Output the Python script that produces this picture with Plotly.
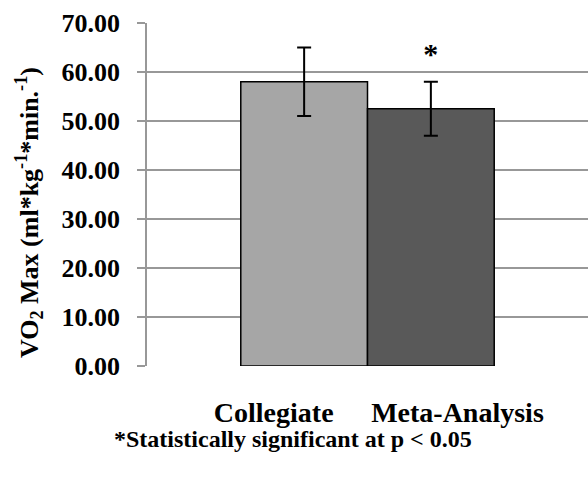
import plotly.graph_objects as go

categories = ["Collegiate", "Meta-Analysis"]
means = [58.0, 52.5]
errors = [7.0, 5.5]
colors = ["#a6a6a6", "#595959"]
label_pos = [-0.24, 1.21]
sig_marker = "*"
sig_y = 63.1
y_ticks = [0, 10, 20, 30, 40, 50, 60, 70]
y_ticktext = [f"{v:.2f}" for v in y_ticks]
y_title = "VO<sub>2</sub> Max (ml*kg<sup>-1</sup>*min.<sup>-1</sup>)"
footnote = "*Statistically significant at p < 0.05"

FONT = "Liberation Serif"

fig = go.Figure()
fig.add_trace(go.Bar(
    x=[0, 1], y=means, width=1,
    marker=dict(color=colors, line=dict(color="black", width=1.5)),
    error_y=dict(type="data", array=errors, color="black", thickness=2, width=7),
    showlegend=False,
))
fig.add_trace(go.Scatter(
    x=[1], y=[sig_y], mode="text", text=[sig_marker],
    textfont=dict(family=FONT, size=30, color="black", weight="bold"), showlegend=False,
))

fig.update_layout(
    width=588, height=479,
    margin=dict(l=147, r=0, t=23, b=113),
    plot_bgcolor="white", paper_bgcolor="white",
    font=dict(family=FONT, color="black"),
    xaxis=dict(
        range=[-1.24, 2.24], tickvals=label_pos, ticktext=categories,
        showgrid=False, zeroline=False, showline=False, ticks="",
        tickfont=dict(family=FONT, size=28, color="black", weight="bold"),
        ticklabelstandoff=27, automargin=False,
    ),
    yaxis=dict(
        range=[0, 70], tickvals=y_ticks, ticktext=y_ticktext,
        showgrid=True, gridcolor="#989898", gridwidth=1.5,
        zeroline=False, showline=True, linecolor="#989898", linewidth=1.5,
        ticks="outside", ticklen=8, tickcolor="#989898", tickwidth=1.5,
        tickfont=dict(family=FONT, size=26, color="black", weight="bold"),
        ticklabelstandoff=12, automargin=False,
    ),
    annotations=[
        dict(text=y_title, xref="paper", yref="paper", x=(29 - 147) / 441,
             y=(366 - 213) / 343, textangle=-90, xanchor="center", yanchor="middle",
             showarrow=False, font=dict(family=FONT, size=26, color="black", weight="bold")),
        dict(text=footnote, xref="paper", yref="paper", x=(293 - 147) / 441,
             y=(366 - 439) / 343, xanchor="center", yanchor="middle", showarrow=False,
             font=dict(family=FONT, size=24, color="black", weight="bold")),
    ],
)
fig.write_html("out.html", config={"displayModeBar": False},
               post_script="document.body.style.margin='0';")
